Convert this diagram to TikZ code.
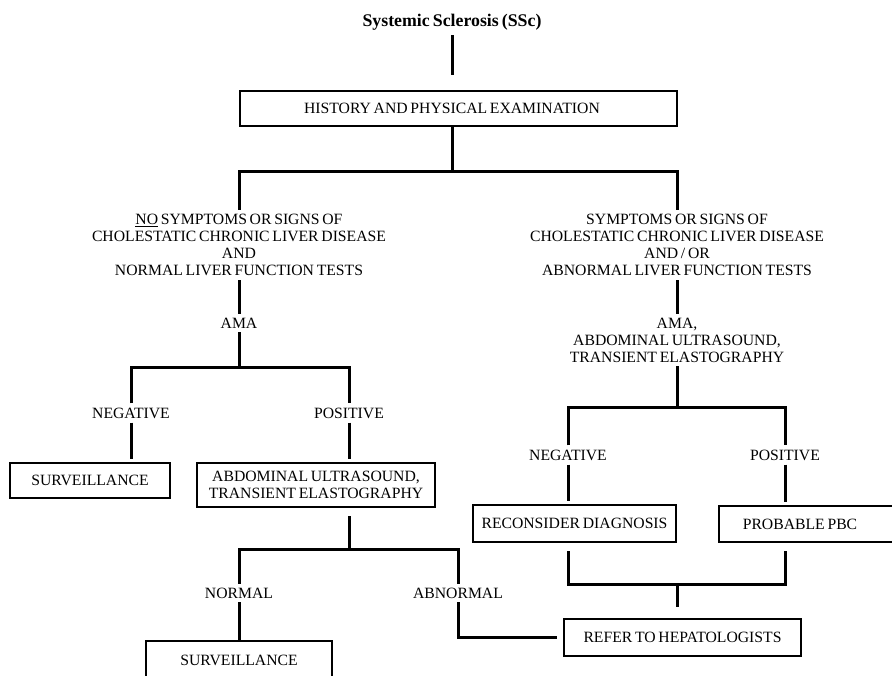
\documentclass[tikz,border=0pt]{standalone}
\usepackage{fontspec}
\setmainfont{Liberation Serif}[WordSpace=0.7]

\begin{document}
\begin{tikzpicture}[x=1pt, y=-1pt,
    link/.style={line width=3pt},
    box/.style={draw, rectangle, line width=2.8pt, inner sep=2pt, align=center, font=\fontsize{15.7}{16.5}\selectfont},
    lbl/.style={inner sep=4pt, align=center, font=\fontsize{15.7}{17}\selectfont}]
    \useasboundingbox (0,0) rectangle (892,676);
    \clip (0,0) rectangle (892,676);

    % Draw title
    \node (title) at (452, 22) [inner sep=5pt, font=\bfseries\fontsize{17.8}{20}\selectfont] {Systemic Sclerosis (SSc)};

    % Draw first box
    \node (hist) at (458.5, 108.5) [box, minimum width=437pt, minimum height=35pt] {HISTORY AND PHYSICAL EXAMINATION\kern13pt};

    % Draw the two branches
    \node (noSym) at (239, 245) [lbl] {\underline{NO} SYMPTOMS OR SIGNS OF\\CHOLESTATIC CHRONIC LIVER DISEASE\\AND\\NORMAL LIVER FUNCTION TESTS};
    \node (sym) at (677, 245) [lbl] {SYMPTOMS OR SIGNS OF\\CHOLESTATIC CHRONIC LIVER DISEASE\\AND / OR\\ABNORMAL LIVER FUNCTION TESTS};
    \node (amaL) at (239, 323) [lbl] {AMA};
    \node (amaR) at (677, 340) [lbl] {AMA,\\ABDOMINAL ULTRASOUND,\\TRANSIENT ELASTOGRAPHY};

    % Draw left results
    \node (negL) at (131, 413) [lbl] {NEGATIVE};
    \node (posL) at (349, 413) [lbl] {POSITIVE};
    \node (survL) at (90, 480.5) [box, minimum width=160pt, minimum height=35pt] {SURVEILLANCE};
    \node (abdL) at (316, 485) [box, minimum width=238pt, minimum height=44pt] {ABDOMINAL ULTRASOUND,\\TRANSIENT ELASTOGRAPHY};
    \node (normL) at (239, 593) [lbl] {NORMAL};
    \node (abnL) at (458, 593) [lbl] {ABNORMAL};
    \node (survB) at (239, 660) [box, minimum width=186pt, minimum height=38pt] {SURVEILLANCE};

    % Draw right results
    \node (negR) at (568, 455) [lbl] {NEGATIVE};
    \node (posR) at (785, 455) [lbl] {POSITIVE};
    \node (recon) at (574.5, 523.5) [box, minimum width=203pt, minimum height=37pt] {RECONSIDER DIAGNOSIS};
    \node (pbc) at (810, 524) [box, minimum width=182pt, minimum height=36pt] {PROBABLE PBC\kern20pt};
    \node (refer) at (682.5, 637.5) [box, minimum width=237pt, minimum height=37pt] {REFER TO HEPATOLOGISTS};

    % Draw forks
    \coordinate (forkTop) at (452, 172);
    \coordinate (forkL) at (239, 368);
    \coordinate (forkR) at (677, 407);
    \coordinate (forkM) at (349, 549);
    \coordinate (forkB) at (677, 584);

    % Draw connectors
    \draw[link, shorten >=15pt] (title) -- (title |- hist.north);
    \draw[link] (hist.south -| title) -- (forkTop);
    \draw[link] (noSym.north) |- (forkTop) -| (sym.north);
    \draw[link] (noSym) -- (amaL);
    \draw[link] (amaL) -- (forkL);
    \draw[link] (negL.north) |- (forkL) -| (posL.north);
    \draw[link, shorten >=3pt] (negL) -- (negL |- survL.north);
    \draw[link, shorten >=3pt] (posL) -- (posL |- abdL.north);
    \draw[link, shorten <=8pt] (abdL.south -| posL) -- (forkM);
    \draw[link] (normL.north) |- (forkM) -| (abnL.north);
    \draw[link] (normL) -- (normL |- survB.north);
    \draw[link, shorten >=6pt] (abnL.south) |- (refer.west);
    \draw[link] (sym) -- (amaR);
    \draw[link] (amaR) -- (forkR);
    \draw[link] (negR.north) |- (forkR) -| (posR.north);
    \draw[link, shorten >=3pt] (negR) -- (negR |- recon.north);
    \draw[link, shorten >=3pt] (posR) -- (posR |- pbc.north);
    \draw[link, shorten <=8pt, shorten >=8pt] (recon.south -| negR) |- (forkB) -| (pbc.south -| posR);
    \draw[link, shorten >=11pt] (forkB) -- (forkB |- refer.north);
\end{tikzpicture}
\end{document}
